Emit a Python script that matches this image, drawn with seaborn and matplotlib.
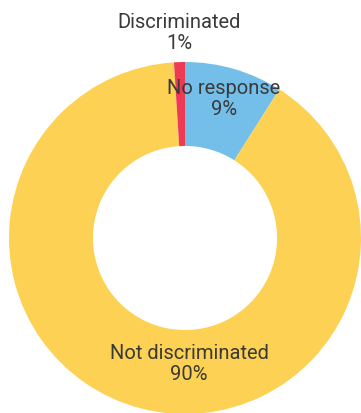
import matplotlib
matplotlib.use("Agg")
import matplotlib.pyplot as plt
import seaborn as sns

categories = ["No response", "Not discriminated", "Discriminated"]
values = [9, 90, 1]
colors = ["#74BFE9", "#FDD153", "#EE3A54"]

sns.set_theme(style="white")
plt.rcParams["font.family"] = ["Roboto", "DejaVu Sans"]

fig = plt.figure(figsize=(3.61, 4.14), dpi=100)
ax = fig.add_axes([0, 0, 1, 1])
R = 176.0
cx, cy = 185.0, 239.0
ax.pie(values, colors=colors, startangle=90, counterclock=False,
       radius=1.0, wedgeprops=dict(width=0.477, linewidth=0))
ax.set_xlim(-cx / R, (361 - cx) / R)
ax.set_ylim((cy - 414) / R, cy / R)
ax.set_aspect("equal")
ax.axis("off")

def px(x, y):
    return ((x - cx) / R, (cy - y) / R)

label_px = {"Discriminated": (179, 33), "No response": (224, 99), "Not discriminated": (189, 364)}
for cat, v in zip(categories, values):
    x, y = px(*label_px[cat])
    ax.text(x, y, f"{cat}\n{v}%", ha="center", va="center", fontsize=14.5,
            color="#3a3a3a", linespacing=1.1, fontweight="normal")

fig.savefig("out.png", dpi=100)
